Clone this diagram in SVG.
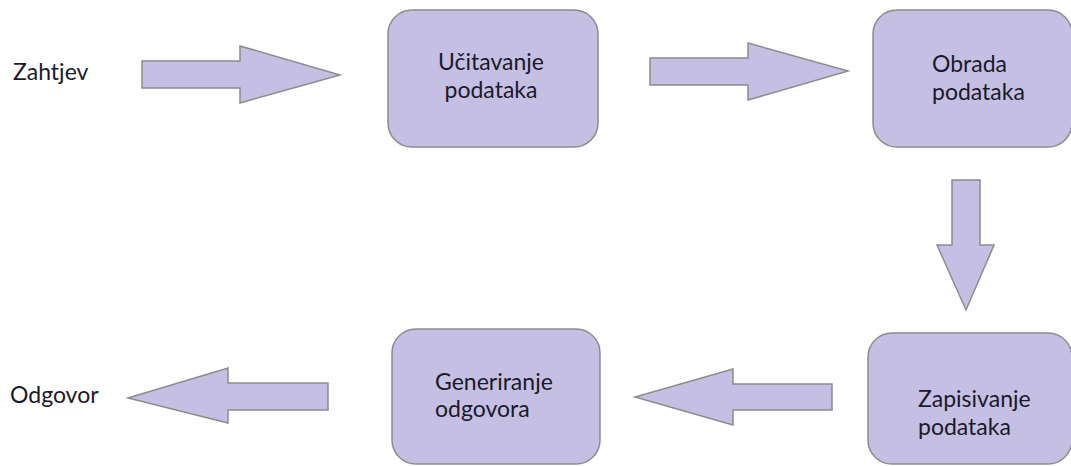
<svg xmlns="http://www.w3.org/2000/svg" width="1071" height="466" viewBox="0 0 1071 466">
  <style>
    .box { fill: #c6bfe4; stroke: #8c8c8c; stroke-width: 1.5; }
    .arrow { fill: #c6bfe4; stroke: #8c8c8c; stroke-width: 1.5; stroke-linejoin: miter; }
    text { font-family: "Lato", "Liberation Sans", sans-serif; font-size: 23px; fill: #1a1a2a; }
  </style>
  <rect width="1071" height="466" fill="#ffffff"/>

  <g id="connectors">
    <!-- Zahtjev -> Učitavanje -->
    <polygon class="arrow" points="142,61 240,61 240,46 340,75 240,103 240,88 142,88"/>
    <!-- Učitavanje -> Obrada -->
    <polygon class="arrow" points="650,58 748,58 748,43 848,71 748,100 748,85 650,85"/>
    <!-- Obrada -> Zapisivanje -->
    <polygon class="arrow" points="952,180 980,180 980,245 994,245 966,310 937,245 952,245"/>
    <!-- Zapisivanje -> Generiranje -->
    <polygon class="arrow" points="832,384 733,384 733,369 635,397 733,425 733,410 832,410"/>
    <!-- Generiranje -> Odgovor -->
    <polygon class="arrow" points="328,383 228,383 228,368 128,398 228,423 228,410 328,410"/>
  </g>

  <g id="zahtjev">
    <text x="13" y="80">Zahtjev</text>
  </g>

  <g id="ucitavanje">
    <rect class="box" x="388" y="10" width="210" height="137" rx="24" ry="24"/>
    <text x="491" y="70" text-anchor="middle">Učitavanje</text>
    <text x="491" y="98" text-anchor="middle">podataka</text>
  </g>

  <g id="obrada">
    <rect class="box" x="873" y="10" width="199" height="137" rx="24" ry="24"/>
    <text x="932" y="72">Obrada</text>
    <text x="932" y="100">podataka</text>
  </g>

  <g id="zapisivanje">
    <rect class="box" x="868" y="333" width="204" height="131" rx="24" ry="24"/>
    <text x="918" y="407">Zapisivanje</text>
    <text x="918" y="435">podataka</text>
  </g>

  <g id="generiranje">
    <rect class="box" x="392" y="329" width="208" height="135" rx="24" ry="24"/>
    <text x="435" y="390">Generiranje</text>
    <text x="435" y="417">odgovora</text>
  </g>

  <g id="odgovor">
    <text x="10" y="403">Odgovor</text>
  </g>
</svg>
